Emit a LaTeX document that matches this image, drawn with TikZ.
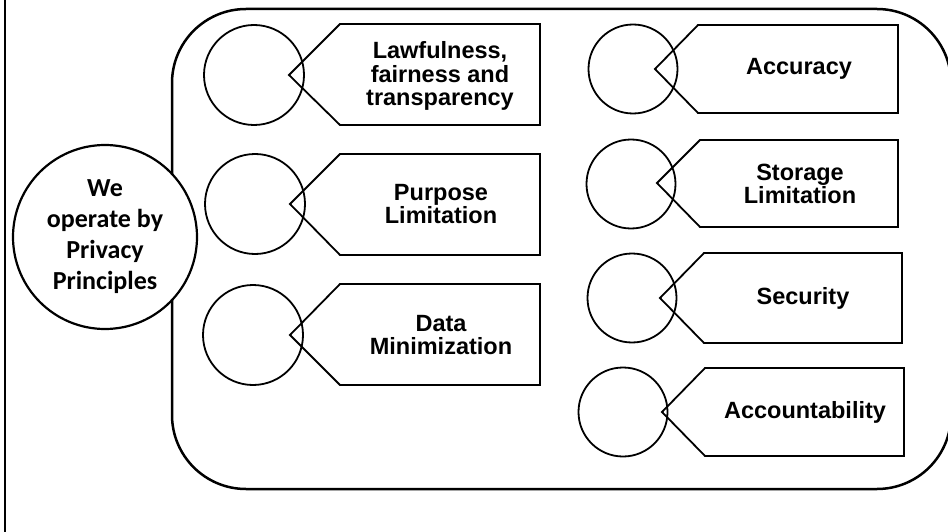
\documentclass[tikz,border=0pt]{standalone}
\usepackage{fontspec}
\setmainfont{Liberation Sans}
\newfontfamily\calibri{Carlito}
\begin{document}
\begin{tikzpicture}[x=1pt, y=-1pt, line width=1.8pt,
  dot/.style={circle, draw, minimum size=#1, inner sep=0pt},
  tagtext/.style={font=\fontsize{23.5}{23.5}\selectfont\bfseries, align=center}]
  \useasboundingbox (0,0) rectangle (948,532);
  \clip (0,0) rectangle (948,532);
  \draw[line width=2.5pt] (5,0) -- (5,532);
  \draw[line width=2.5pt, rounded corners=74pt] (172,9) rectangle (951,489);
  \node[dot=184pt, fill=white, line width=2.2pt, font=\calibri\fontsize{26}{31}\selectfont\bfseries, align=center] (core) at (105,237) {We\\operate by\\Privacy\\Principles};
  % left column
  \node[dot=100pt] (c1) at (254,75) {};
  \draw (289,75) -- (340,24) -- (540,24) -- (540,125) -- (340,125) -- cycle;
  \node[tagtext] (lawful) at (440,76) {Lawfulness,\\fairness and\\transparency};
  \node[dot=100pt] (c2) at (255,204) {};
  \draw (290,204) -- (340,154) -- (540,154) -- (540,255) -- (340,255) -- cycle;
  \node[tagtext] (purpose) at (441,204) {Purpose\\Limitation};
  \node[dot=100pt] (c3) at (253,335) {};
  \draw (290,335) -- (340,284) -- (540,284) -- (540,385) -- (340,385) -- cycle;
  \node[tagtext] (minim) at (441,335) {Data\\Minimization};
  % right column
  \node[dot=89pt] (c4) at (633,69) {};
  \draw (655,69) -- (698,25) -- (898,25) -- (898,113) -- (698,113) -- cycle;
  \node[tagtext] (accur) at (799,69) {Accuracy};
  \node[dot=89pt] (c5) at (631,184) {};
  \draw (657,183) -- (700,140) -- (898,140) -- (898,227) -- (700,227) -- cycle;
  \node[tagtext] (storage) at (800,184) {Storage\\Limitation};
  \node[dot=89pt] (c6) at (632,298) {};
  \draw (660,298) -- (704,253) -- (902,253) -- (902,343) -- (704,343) -- cycle;
  \node[tagtext] (secur) at (803,298) {Security};
  \node[dot=89pt] (c7) at (623,412) {};
  \draw (662,412) -- (705,368) -- (904,368) -- (904,456) -- (705,456) -- cycle;
  \node[tagtext] (account) at (805,412) {Accountability};
\end{tikzpicture}
\end{document}
